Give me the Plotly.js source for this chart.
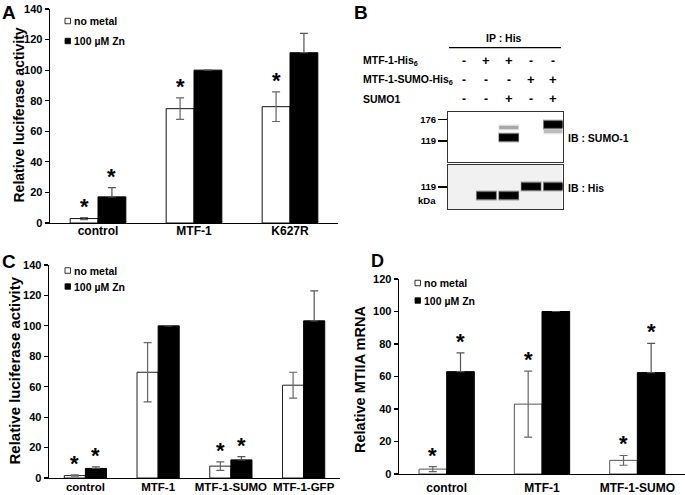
<!DOCTYPE html>
<html>
<head>
<meta charset="utf-8">
<script src="https://cdn.plot.ly/plotly-3.0.1.min.js"></script>
<style>html,body{margin:0;padding:0;background:#fff;}#chart{width:685px;height:495px;}</style>
</head>
<body>
<div id="chart"></div>
<script>
// ---------------- DATA ----------------
const seriesNames = ['no metal', '100 µM Zn'];

// Panel A
const catsA = ['control', 'MTF-1', 'K627R'];
const noMetalA = [2.9, 74.8, 76.1];
const noMetalErrA = [0.7, 7.0, 9.7];
const znA = [17.1, 100, 111.4];
const znErrA = [6.0, null, 12.7];
const starNoMetalA = [true, true, true];
const starZnA = [true, false, false];
const yTitleA = 'Relative luciferase activity';

// Panel C
const catsC = ['control', 'MTF-1', 'MTF-1-SUMO', 'MTF-1-GFP'];
const noMetalC = [1.6, 69.5, 7.8, 61.0];
const noMetalErrC = [0.4, 19.5, 2.8, 8.5];
const znC = [6.3, 100, 11.9, 103.3];
const znErrC = [1.1, null, 2.2, 19.7];
const starNoMetalC = [true, false, true, false];
const starZnC = [true, false, true, false];
const yTitleC = 'Relative luciferase activity';

// Panel D
const catsD = ['control', 'MTF-1', 'MTF-1-SUMO'];
const noMetalD = [3.0, 43.0, 8.4];
const noMetalErrD = [1.5, 20.3, 3.0];
const znD = [63.0, 100, 62.4];
const znErrD = [11.5, null, 18.0];
const starNoMetalD = [true, true, true];
const starZnD = [true, false, true];
const yTitleD = 'Relative MTIIA mRNA';

// Panel B (western blot)
const lanes = [1, 2, 3, 4, 5];
const rowLabels = ['MTF-1-His<sub>6</sub>', 'MTF-1-SUMO-His<sub>6</sub>', 'SUMO1'];
const rowSigns = [
  ['-', '+', '+', '-', '-'],
  ['-', '-', '-', '+', '+'],
  ['-', '-', '+', '-', '+']
];
const ipLabel = 'IP : His';
const blotLabels = ['IB : SUMO-1', 'IB : His'];
const markersUpper = [119, 176];
const markersLower = [119];
// bands: lane, apparent MW (kDa), intensity (1 = strong)
const bandsUpperLane = [3, 3, 5, 5];
const bandsUpperMW = [126.7, 151.8, 160.2, 141.2];
const bandsUpperInt = [1, 0.2, 1, 0.15];
const bandsLowerLane = [2, 3, 4, 5];
const bandsLowerMW = [102, 102, 120.1, 120.1];
const bandsLowerInt = [1, 1, 1, 1];

// ---------------- LAYOUT HELPERS ----------------
const W = 685, H = 495;
const FONT = 'Liberation Sans, Arial, Helvetica, sans-serif';
const px = x => x / W;
const py = y => 1 - y / H;
const f = (size, color) => ({family: FONT, size: size, color: color || '#000', weight: 'bold'});

const BARW = 0.29; // (1 - bargap) / 2

function errArr(a) { return a.map(v => v === null ? NaN : v); }

function barTraces(cats, nm, nmErr, zn, znErr, xa, ya, outline) {
  return [
    {type: 'bar', x: cats, y: nm, name: seriesNames[0], xaxis: xa, yaxis: ya,
     marker: {color: '#ffffff', line: {color: outline, width: 1}},
     error_y: {type: 'data', array: errArr(nmErr), visible: true, color: '#666', thickness: 1.2, width: 4},
     showlegend: false, hoverinfo: 'x+y'},
    {type: 'bar', x: cats, y: zn, name: seriesNames[1], xaxis: xa, yaxis: ya,
     marker: {color: '#000000', line: {color: '#000', width: 1}},
     error_y: {type: 'data', symmetric: false, array: errArr(znErr), arrayminus: zn.map(() => 0),
               visible: true, color: '#555', thickness: 1.2, width: 4},
     showlegend: false, hoverinfo: 'x+y'}
  ];
}

function stars(nm, nmErr, sNm, zn, znErr, sZn, xa, ya) {
  const out = [];
  const add = (vals, errs, flags, off) => vals.forEach((v, i) => {
    if (!flags[i]) return;
    const top = v + (errs[i] || 0);
    out.push({xref: xa, yref: ya, x: i + off, y: top, text: '*', showarrow: false,
              yanchor: 'bottom', xanchor: 'center', yshift: -3, font: f(22)});
  });
  add(nm, nmErr, sNm, -BARW / 2);
  add(zn, znErr, sZn, BARW / 2);
  return out;
}

function legend(x, y1, y2) {
  const shapes = [], anns = [];
  const ys = [y1, y2];
  const fills = ['#ffffff', '#000000'];
  seriesNames.forEach((n, i) => {
    shapes.push({type: 'rect', xref: 'paper', yref: 'paper', x0: px(x), x1: px(x + 5.5),
                 y0: py(ys[i] + 2.75), y1: py(ys[i] - 2.75), fillcolor: fills[i],
                 line: {color: '#000', width: 0.8}});
    anns.push({xref: 'paper', yref: 'paper', x: px(x + 6.5), y: py(ys[i]), text: n,
               showarrow: false, xanchor: 'left', yanchor: 'middle', font: f(10.5)});
  });
  return {shapes, anns};
}

function yAx(domTop, domBot, range, dtick) {
  return {domain: [py(domBot), py(domTop)], range: range, dtick: dtick, tick0: 0,
          showline: true, linecolor: '#000', linewidth: 1.4, ticks: 'outside', ticklen: 4,
          tickcolor: '#000', tickwidth: 1.2, showgrid: false, zeroline: false,
          tickfont: f(11), fixedrange: true};
}
function xAx(x0, x1, anchor, size, standoff) {
  return {domain: [px(x0), px(x1)], anchor: anchor, type: 'category', showline: true,
          linecolor: '#000', linewidth: 1.4, ticks: '', showgrid: false, zeroline: false,
          tickfont: f(size), ticklabelstandoff: standoff, fixedrange: true};
}
function yTitle(text, x, yc, size) {
  return {xref: 'paper', yref: 'paper', x: px(x), y: py(yc), text: text, textangle: -90,
          showarrow: false, xanchor: 'center', yanchor: 'middle', font: f(size)};
}

// ---------------- TRACES ----------------
const data = [].concat(
  barTraces(catsA, noMetalA, noMetalErrA, znA, znErrA, 'x', 'y', '#111'),
  barTraces(catsC, noMetalC, noMetalErrC, znC, znErrC, 'x2', 'y2', '#222'),
  barTraces(catsD, noMetalD, noMetalErrD, znD, znErrD, 'x3', 'y3', '#555')
);
// invisible anchors for blot axes
data.push({type: 'scatter', x: [], y: [], xaxis: 'x4', yaxis: 'y4', showlegend: false});
data.push({type: 'scatter', x: [], y: [], xaxis: 'x5', yaxis: 'y5', showlegend: false});

// ---------------- ANNOTATIONS & SHAPES ----------------
let annotations = [];
let shapes = [];

annotations = annotations.concat(
  stars(noMetalA, noMetalErrA, starNoMetalA, znA, znErrA, starZnA, 'x', 'y'),
  stars(noMetalC, noMetalErrC, starNoMetalC, znC, znErrC, starZnC, 'x2', 'y2'),
  stars(noMetalD, noMetalErrD, starNoMetalD, znD, znErrD, starZnD, 'x3', 'y3')
);

// y-axis titles
annotations.push(yTitle(yTitleA, 18, 115.5, 14));
annotations.push(yTitle(yTitleC, 14, 370.5, 15));
annotations.push(yTitle(yTitleD, 360, 380, 14.5));

[[65, 21, 41], [65, 270.5, 286.5], [415, 283, 300.5]].forEach(l => {
  const g = legend(l[0], l[1], l[2]);
  shapes = shapes.concat(g.shapes);
  annotations = annotations.concat(g.anns);
});

// panel letters
[['A', 0, 0, 19], ['B', 352, 0, 19], ['C', 0, 249, 19], ['D', 369, 249, 18]].forEach(p => {
  annotations.push({xref: 'paper', yref: 'paper', x: px(p[1]), y: py(p[2]), text: p[0],
                    showarrow: false, xanchor: 'left', yanchor: 'top', font: f(p[3])});
});

// Panel B: header and sign table
annotations.push({xref: 'paper', yref: 'paper', x: px(504), y: py(38), text: ipLabel,
                  showarrow: false, xanchor: 'center', yanchor: 'middle', font: f(10.5)});
shapes.push({type: 'line', xref: 'paper', yref: 'paper', x0: px(449), x1: px(561),
             y0: py(47.7), y1: py(47.7), line: {color: '#000', width: 1.3}});
const rowY = [60.5, 79.5, 99];
rowLabels.forEach((lab, r) => {
  annotations.push({xref: 'paper', yref: 'paper', x: px(361), y: py(rowY[r]), text: lab,
                    showarrow: false, xanchor: 'left', yanchor: 'middle', font: f(10.5)});
  rowSigns[r].forEach((s, i) => {
    annotations.push({xref: 'x4', yref: 'paper', x: lanes[i], y: py(rowY[r]), text: s,
                      showarrow: false, xanchor: 'center', yanchor: 'middle',
                      font: f(s === '+' ? 13 : 12)});
  });
});
annotations.push({xref: 'paper', yref: 'paper', x: px(566), y: py(138), text: blotLabels[0],
                  showarrow: false, xanchor: 'left', yanchor: 'middle', font: f(10.5)});
annotations.push({xref: 'paper', yref: 'paper', x: px(566), y: py(188), text: blotLabels[1],
                  showarrow: false, xanchor: 'left', yanchor: 'middle', font: f(10.5)});
annotations.push({xref: 'paper', yref: 'paper', x: px(438), y: py(200.5), text: 'kDa',
                  showarrow: false, xanchor: 'right', yanchor: 'middle', font: f(9.5)});

// lower blot background
shapes.push({type: 'rect', xref: 'x5 domain', yref: 'y5 domain', x0: 0, x1: 1, y0: 0, y1: 1,
             fillcolor: '#f1f1f1', line: {width: 0}, layer: 'below'});

function bandShapes(laneArr, mwArr, intArr, xa, ya) {
  const out = [];
  laneArr.forEach((ln, i) => {
    const c = Math.log10(mwArr[i]);
    const k = intArr[i];
    const hh = k > 0.5 ? 0.026 : 0.012;
    // layers: outer halo -> core, giving a soft blot look
    const layers = [[0.47, 0.016, 0.18], [0.455, 0.009, 0.35], [0.44, 0.004, 0.6], [0.42, 0, 1]];
    layers.forEach(L => {
      out.push({type: 'rect', xref: xa, yref: ya, x0: ln - L[0], x1: ln + L[0],
                y0: c - hh - L[1], y1: c + hh + L[1],
                fillcolor: 'rgba(0,0,0,' + (L[2] * k * (k > 0.5 ? 1 : 0.9)).toFixed(3) + ')',
                line: {width: 0}});
    });
  });
  return out;
}
shapes = shapes.concat(
  bandShapes(bandsUpperLane, bandsUpperMW, bandsUpperInt, 'x4', 'y4'),
  bandShapes(bandsLowerLane, bandsLowerMW, bandsLowerInt, 'x5', 'y5')
);

// ---------------- BLOT AXES ----------------
const laneRange = [0.281, 5.405];
function blotX(anchor) {
  return {domain: [px(448), px(562.5)], anchor: anchor, range: laneRange, showline: true, mirror: true,
          linecolor: '#333', linewidth: 1, showticklabels: false, ticks: '', showgrid: false,
          zeroline: false, fixedrange: true};
}
function blotY(anchor, top, bot, logTop, logBot, markers) {
  return {domain: [py(bot), py(top)], anchor: anchor, range: [logBot, logTop], showline: true, mirror: true,
          linecolor: '#333', linewidth: 1, tickvals: markers.map(m => Math.log10(m)),
          ticktext: markers.map(String), ticks: 'outside', ticklen: 9, tickwidth: 1.6, tickcolor: '#000',
          tickfont: f(9.5), showgrid: false, zeroline: false, fixedrange: true};
}

const layout = {
  width: W, height: H, margin: {l: 0, r: 0, t: 0, b: 0}, paper_bgcolor: '#fff', plot_bgcolor: 'rgba(0,0,0,0)',
  showlegend: false, barmode: 'group', bargap: 0.42, bargroupgap: 0,
  font: {family: FONT},
  xaxis: xAx(50, 338, 'y', 12, -4),
  yaxis: yAx(9, 223, [0, 140], 20),
  xaxis2: xAx(49, 340, 'y2', 11.5, -2),
  yaxis2: yAx(265, 478, [0, 140], 20),
  xaxis3: xAx(399, 685, 'y3', 12, 2),
  yaxis3: yAx(279, 474, [0, 120], 20),
  xaxis4: blotX('y4'),
  yaxis4: blotY('x4', 112, 161.5, 2.3027, 1.9148, markersUpper),
  xaxis5: blotX('y5'),
  yaxis5: blotY('x5', 164.5, 209, 2.2518, 1.9031, markersLower),
  annotations: annotations,
  shapes: shapes
};
layout.yaxis.anchor = 'x';
layout.yaxis2.anchor = 'x2';
layout.yaxis3.anchor = 'x3';

Plotly.newPlot('chart', data, layout, {displayModeBar: false, staticPlot: true});
</script>
</body>
</html>
